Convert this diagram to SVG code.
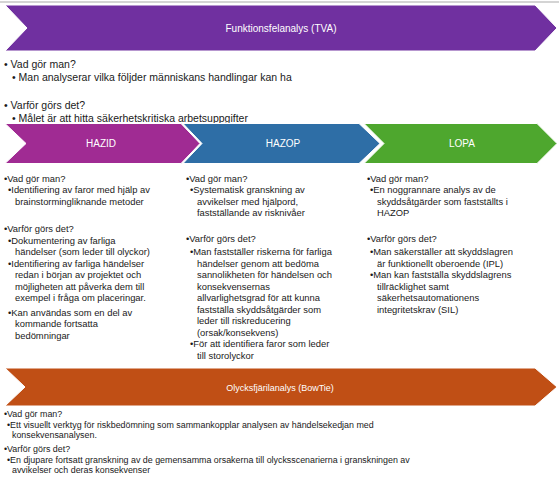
<svg xmlns="http://www.w3.org/2000/svg" width="559" height="498" viewBox="0 0 559 498">
<style>
.t{font-family:"Liberation Sans",Arial,sans-serif;fill:#1a1a1a}
.top{font-size:10.5px}
.b{font-size:9.4px}
.s{font-size:8.9px}
.h{font-family:"Liberation Sans",Arial,sans-serif;fill:#ffffff;font-size:10px;text-anchor:middle}
.chev{stroke:#ffffff;stroke-width:1}
</style>
<rect x="0" y="0" width="559" height="498" fill="#ffffff"/>
<line x1="0" y1="2" x2="559" y2="2" stroke="#d4d4d4" stroke-width="2"/>

<g id="tva">
<polygon class="chev" fill="#7030A0" points="5,5 535,5 557,28 535,51 5,51 27,28"/>
<text class="h" x="281" y="31.5">Funktionsfelanalys (TVA)</text>
<text class="t top" x="4" y="68">• Vad gör man?</text>
<text class="t top" x="12" y="81">• Man analyserar vilka följder människans handlingar kan ha</text>
<text class="t top" x="4" y="109">• Varför görs det?</text>
<text class="t top" x="12" y="122">• Målet är att hitta säkerhetskritiska arbetsuppgifter</text>
</g>

<g id="hazid">
<polygon class="chev" fill="#A02B93" points="5,123.5 181,123.5 200,143.5 181,163.5 5,163.5 26,143.5"/>
<text class="h" x="101" y="147">HAZID</text>
<text class="t b" x="4" y="181.5">•Vad gör man?</text>
<text class="t b" x="8" y="193">•Identifiering av faror med hjälp av</text>
<text class="t b" x="15" y="204.5">brainstormingliknande metoder</text>
<text class="t b" x="4" y="231.5">•Varför görs det?</text>
<text class="t b" x="8" y="243.5">•Dokumentering av farliga</text>
<text class="t b" x="15" y="255">händelser (som leder till olyckor)</text>
<text class="t b" x="8" y="266.5">•Identifiering av farliga händelser</text>
<text class="t b" x="15" y="278">redan i början av projektet och</text>
<text class="t b" x="15" y="289.5">möjligheten att påverka dem till</text>
<text class="t b" x="15" y="301">exempel i fråga om placeringar.</text>
<text class="t b" x="8" y="315.5">•Kan användas som en del av</text>
<text class="t b" x="15" y="327">kommande fortsatta</text>
<text class="t b" x="15" y="338.5">bedömningar</text>
</g>

<g id="hazop">
<polygon class="chev" fill="#2E6EA6" points="183,123.5 359,123.5 380,143.5 359,163.5 183,163.5 202,143.5"/>
<text class="h" x="283" y="147">HAZOP</text>
<text class="t b" x="186" y="181.5">•Vad gör man?</text>
<text class="t b" x="190" y="193">•Systematisk granskning av</text>
<text class="t b" x="197" y="204.5">avvikelser med hjälpord,</text>
<text class="t b" x="197" y="216">fastställande av risknivåer</text>
<text class="t b" x="186" y="241.5">•Varför görs det?</text>
<text class="t b" x="190" y="255">•Man fastställer riskerna för farliga</text>
<text class="t b" x="197" y="266.5">händelser genom att bedöma</text>
<text class="t b" x="197" y="278">sannolikheten för händelsen och</text>
<text class="t b" x="197" y="289.5">konsekvensernas</text>
<text class="t b" x="197" y="301">allvarlighetsgrad för att kunna</text>
<text class="t b" x="197" y="312.5">fastställa skyddsåtgärder som</text>
<text class="t b" x="197" y="324">leder till riskreducering</text>
<text class="t b" x="197" y="335.5">(orsak/konsekvens)</text>
<text class="t b" x="190" y="347">•För att identifiera faror som leder</text>
<text class="t b" x="197" y="358.5">till storolyckor</text>
</g>

<g id="lopa">
<polygon class="chev" fill="#4EA72E" points="364,123.5 537,123.5 557,143.5 537,163.5 364,163.5 384,143.5"/>
<text class="h" x="462" y="147">LOPA</text>
<text class="t b" x="367" y="181.5">•Vad gör man?</text>
<text class="t b" x="370" y="193">•En noggrannare analys av de</text>
<text class="t b" x="377" y="204.5">skyddsåtgärder som fastställts i</text>
<text class="t b" x="377" y="216">HAZOP</text>
<text class="t b" x="367" y="241.5">•Varför görs det?</text>
<text class="t b" x="370" y="255">•Man säkerställer att skyddslagren</text>
<text class="t b" x="377" y="266.5">är funktionellt oberoende (IPL)</text>
<text class="t b" x="370" y="278">•Man kan fastställa skyddslagrens</text>
<text class="t b" x="377" y="289.5">tillräcklighet samt</text>
<text class="t b" x="377" y="301">säkerhetsautomationens</text>
<text class="t b" x="377" y="312.5">integritetskrav (SIL)</text>
</g>

<g id="bowtie">
<polygon class="chev" fill="#C04F15" points="5,368 535,368 557,387 535,406 5,406 25,387"/>
<text class="h" x="280" y="390.5" style="font-size:9px">Olycksfjärilanalys (BowTie)</text>
<text class="t s" x="4" y="417">•Vad gör man?</text>
<text class="t s" x="7" y="427.5">•Ett visuellt verktyg för riskbedömning som sammankopplar analysen av händelsekedjan med</text>
<text class="t s" x="12" y="438">konsekvensanalysen.</text>
<text class="t s" x="4" y="452">•Varför görs det?</text>
<text class="t s" x="7" y="462.5">•En djupare fortsatt granskning av de gemensamma orsakerna till olycksscenarierna i granskningen av</text>
<text class="t s" x="12" y="473">avvikelser och deras konsekvenser</text>
</g>

<g id="connectors"></g>
</svg>
